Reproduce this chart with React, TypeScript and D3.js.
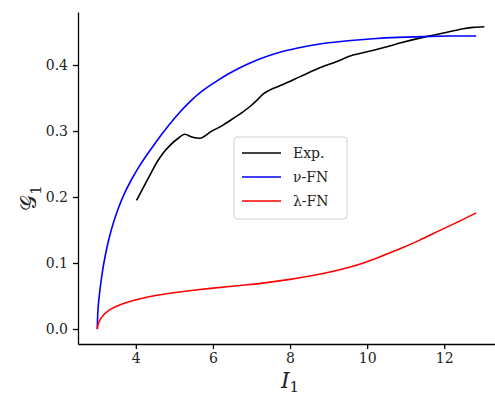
import React, { useEffect, useRef } from 'react';
import * as d3 from 'd3';

// Exp. curve (I1, G1)
const expX = [4.02, 4.2, 4.4, 4.55, 4.7, 4.9, 5.1, 5.27, 5.45, 5.66, 5.95, 6.26, 6.5, 6.78, 7.0, 7.13, 7.3, 7.47, 7.8, 8.25, 8.7, 9.2, 9.63, 10.0, 10.41, 10.9, 11.53, 12.1, 12.5, 12.75, 13.04];
const expY = [0.195, 0.215, 0.237, 0.253, 0.266, 0.279, 0.289, 0.295, 0.291, 0.289, 0.299, 0.309, 0.318, 0.329, 0.339, 0.346, 0.356, 0.362, 0.37, 0.382, 0.394, 0.405, 0.415, 0.42, 0.426, 0.434, 0.443, 0.45, 0.455, 0.457, 0.458];

// nu-FN model
const nuX = [3.0, 3.01, 3.04, 3.07, 3.13, 3.2, 3.3, 3.41, 3.55, 3.7, 3.9, 4.1, 4.3, 4.54, 4.8, 5.14, 5.44, 5.74, 6.1, 6.44, 6.8, 7.2, 7.56, 8.2, 8.85, 9.5, 10.15, 10.8, 11.44, 12.1, 12.83];
const nuY = [0.0, 0.025, 0.045, 0.06, 0.087, 0.11, 0.137, 0.16, 0.184, 0.206, 0.228, 0.248, 0.265, 0.285, 0.305, 0.329, 0.347, 0.362, 0.376, 0.388, 0.399, 0.409, 0.417, 0.426, 0.433, 0.437, 0.44, 0.442, 0.443, 0.444, 0.444];

// lambda-FN model
const lamX = [3.0, 3.02, 3.07, 3.15, 3.3, 3.5, 3.8, 4.1, 4.5, 4.96, 5.5, 6.0, 6.5, 6.95, 7.5, 8.0, 8.5, 9.1, 9.5, 9.97, 10.4, 10.84, 11.35, 11.87, 12.35, 12.83];
const lamY = [0.0, 0.008, 0.014, 0.021, 0.029, 0.035, 0.041, 0.046, 0.051, 0.055, 0.059, 0.062, 0.065, 0.067, 0.071, 0.075, 0.08, 0.087, 0.093, 0.101, 0.111, 0.121, 0.134, 0.149, 0.162, 0.176];

const xTicks = [4, 6, 8, 10, 12];
const yTicks = [0.0, 0.1, 0.2, 0.3, 0.4];

const seriesNames = ['Exp.', 'ν-FN', 'λ-FN'];
const seriesColors = ['#000000', '#0000ff', '#ff0000'];

const App = () => {
  const svgRef = useRef<SVGSVGElement>(null);
  const width = 495;
  const height = 398;
  const margin = { top: 12, right: 0, bottom: 54, left: 78 };

  useEffect(() => {
    const svg = d3.select(svgRef.current);
    svg.selectAll('*').remove();

    const x = d3.scaleLinear().domain([2.5, 13.55]).range([margin.left, 504]);
    const y = d3.scaleLinear().domain([-0.0227, 0.4803]).range([height - margin.bottom, margin.top]);

    const font = "'DejaVu Serif', 'Liberation Serif', serif";
    const g = svg.append('g');

    // experiment keeps its kinks, the models are smooth
    const series = [
      { xs: expX, ys: expY, curve: d3.curveMonotoneX },
      { xs: nuX, ys: nuY, curve: d3.curveBasis },
      { xs: lamX, ys: lamY, curve: d3.curveBasis },
    ];

    series.forEach((s, i) => {
      const pts: [number, number][] = s.xs.map((v, j) => [v, s.ys[j]]);
      const line = d3.line<[number, number]>()
        .x(d => x(d[0]))
        .y(d => y(d[1]))
        .curve(s.curve);
      g.append('path')
        .attr('d', line(pts))
        .attr('fill', 'none')
        .attr('stroke', seriesColors[i])
        .attr('stroke-width', 1.6)
        .attr('stroke-linejoin', 'round');
    });

    // X axis
    const xAxis = g.append('g')
      .attr('transform', `translate(0,${height - margin.bottom})`)
      .call(d3.axisBottom(x).tickValues(xTicks).tickSize(5).tickSizeOuter(0).tickPadding(4).tickFormat(d3.format('d')));
    xAxis.select('.domain').attr('stroke-width', 1.3);
    xAxis.selectAll('.tick line').attr('stroke-width', 1.3);
    xAxis.selectAll('text').style('font-family', font).style('font-size', '14px').attr('fill', '#222');

    // Y axis
    const yAxis = g.append('g')
      .attr('transform', `translate(${margin.left},0)`)
      .call(d3.axisLeft(y).tickValues(yTicks).tickSize(5).tickSizeOuter(0).tickPadding(5).tickFormat(d3.format('.1f')));
    yAxis.select('.domain').attr('stroke-width', 1.3);
    yAxis.selectAll('.tick line').attr('stroke-width', 1.3);
    yAxis.selectAll('text').style('font-family', font).style('font-size', '14px').attr('fill', '#222');

    // Axis labels
    const xl = g.append('text')
      .attr('x', 290)
      .attr('y', 388)
      .attr('text-anchor', 'middle')
      .style('font-family', font)
      .style('font-size', '22px')
      .attr('fill', '#222');
    xl.append('tspan').style('font-style', 'italic').text('I');
    xl.append('tspan').attr('dy', 4).style('font-size', '15px').text('1');

    const yl = g.append('text')
      .attr('transform', `translate(36,198) rotate(-90)`)
      .attr('text-anchor', 'middle')
      .style('font-family', font)
      .style('font-size', '22px')
      .attr('fill', '#222');
    yl.append('tspan').text('𝒢');
    yl.append('tspan').attr('dy', 5).style('font-size', '15px').text('1');

    // Legend
    const legend = g.append('g').attr('transform', 'translate(234,137)');
    legend.append('rect')
      .attr('width', 113)
      .attr('height', 82)
      .attr('rx', 3)
      .attr('fill', 'white')
      .attr('fill-opacity', 0.8)
      .attr('stroke', '#d0d0d0')
      .attr('stroke-width', 1);
    seriesNames.forEach((name, i) => {
      const ry = 16 + i * 24;
      legend.append('line')
        .attr('x1', 8).attr('x2', 47)
        .attr('y1', ry).attr('y2', ry)
        .attr('stroke', seriesColors[i])
        .attr('stroke-width', 1.6);
      legend.append('text')
        .attr('x', 59)
        .attr('y', ry + 5)
        .style('font-family', font)
        .style('font-size', '14px')
        .attr('fill', '#222')
        .text(name);
    });
  }, []);

  return (
    <div style={{ position: 'absolute', left: 0, top: 0 }}>
      <svg ref={svgRef} width={width} height={height} style={{ display: 'block', background: 'white' }} />
    </div>
  );
};

export default App;
